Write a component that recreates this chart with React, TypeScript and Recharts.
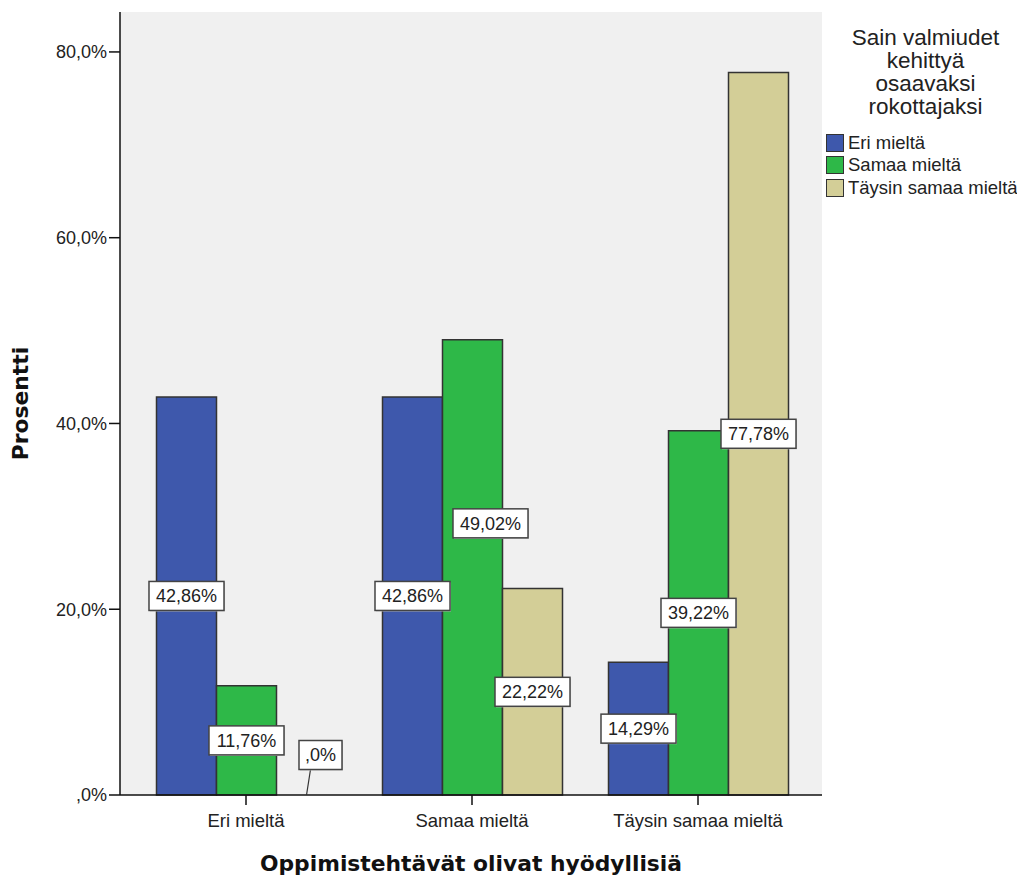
import React from 'react';
import {
  BarChart,
  Bar,
  XAxis,
  YAxis,
  CartesianGrid,
  Legend,
  LabelList,
} from 'recharts';

const categories = ['Eri mieltä', 'Samaa mieltä', 'Täysin samaa mieltä'];
const eriMielta = [42.86, 42.86, 14.29];
const samaaMielta = [11.76, 49.02, 39.22];
const taysinSamaa = [0, 22.22, 77.78];
const seriesNames = ['Eri mieltä', 'Samaa mieltä', 'Täysin samaa mieltä'];
const yTicks = [0, 20, 40, 60, 80];
const legendTitle = ['Sain valmiudet', 'kehittyä', 'osaavaksi', 'rokottajaksi'];

const data = categories.map((cat, i) => ({
  cat,
  eri: eriMielta[i],
  samaa: samaaMielta[i],
  taysin: taysinSamaa[i],
}));

const keys = ['eri', 'samaa', 'taysin'];
const colors = ['#3E58AC', '#2EB848', '#D3CE97'];

const FONT = '"Liberation Sans", Arial, sans-serif';
const BOLD_FONT = '"DejaVu Sans", Verdana, sans-serif';
const Y_MAX = 84.3;
const X_PAD = { left: 13, right: 11 };

const fmtPct = (v: number) => (v === 0 ? ',0%' : `${v.toFixed(2).replace('.', ',')}%`);
const fmtTick = (v: number) => (v === 0 ? ',0%' : `${v},0%`);

// label nudges where the original moved a box off the bar centre
const labelNudge = (key: string, index: number, value: number) => {
  if (value === 0) return { dx: 14, dy: -40 };
  if (key === 'samaa' && index === 1) return { dx: 18, dy: -44 };
  return { dx: 0, dy: 0 };
};

const makeLabel = (key: string) => (props: any) => {
  const { x, y, width, height, value, index } = props;
  const v = Number(value);
  const base = Number(y) + Number(height);
  const top = v === 0 ? base : Number(y);
  const cx = Number(x) + Number(width) / 2;
  const cy = v === 0 ? base : Number(y) + Number(height) / 2;
  const text = fmtPct(v);
  const w = text.length * 10.67 + 11;
  const h = 29;
  const n = labelNudge(key, index, v);
  const bx = cx + n.dx;
  const by = cy + n.dy;
  return (
    <g>
      {v === 0 && (
        <line x1={cx} y1={top} x2={bx - 10} y2={by + h / 2} stroke="#333" strokeWidth={1.2} />
      )}
      <rect x={bx - w / 2 + 1} y={by - h / 2 + 1} width={w} height={h} fill="#c8c8c8" />
      <rect x={bx - w / 2} y={by - h / 2} width={w} height={h} fill="#fff" stroke="#444" strokeWidth={1.5} />
      <text x={bx} y={by} dy="0.36em" textAnchor="middle" fontSize={18} fontFamily={FONT} fill="#222">
        {text}
      </text>
    </g>
  );
};

const LegendBox = (props: any) => {
  const payload = (props.payload || []).filter((p: any) => p.type !== 'none');
  return (
    <div style={{ fontFamily: FONT, color: '#222' }}>
      <div style={{ width: 199, textAlign: 'center', fontSize: 22.5, lineHeight: '23px' }}>
        {legendTitle.map((t) => (
          <div key={t}>{t}</div>
        ))}
      </div>
      <div style={{ marginTop: 13.5 }}>
        {payload.map((p: any) => (
          <div key={p.value} style={{ display: 'flex', alignItems: 'center', height: 22.5, fontSize: 18.5, whiteSpace: 'nowrap' }}>
            <span
              style={{
                display: 'inline-block',
                width: 16,
                height: 16,
                background: p.color,
                border: '1.5px solid #333',
                marginRight: 4,
              }}
            />
            {p.value}
          </div>
        ))}
      </div>
    </div>
  );
};

const App: React.FC = () => {
  return (
    <div style={{ width: 1009, height: 869 }}>
      <BarChart
        width={1009}
        height={869}
        data={data}
        margin={{ top: 4, right: 195, left: 0, bottom: 0 }}
        barCategoryGap="10.4%"
        barGap={0}
      >
        <CartesianGrid fill="#F0F0F0" horizontal={false} vertical={false} />
        <XAxis
          dataKey="cat"
          height={82}
          padding={X_PAD}
          axisLine={{ stroke: '#111', strokeWidth: 1.5 }}
          tickLine={{ stroke: '#111', strokeWidth: 1.5 }}
          tickSize={10}
          tickMargin={9}
          tick={{ fontSize: 18.5, fontFamily: FONT, fill: '#222' }}
          label={{
            value: 'Oppimistehtävät olivat hyödyllisiä',
            position: 'insideBottom',
            offset: 6,
            style: { fontSize: 21.8, fontWeight: 'bold', fontFamily: BOLD_FONT, fill: '#111' },
          }}
        />
        <XAxis
          xAxisId="top"
          dataKey="cat"
          orientation="top"
          height={0}
          padding={X_PAD}
          tick={false}
          tickLine={false}
          axisLine={{ stroke: '#666', strokeWidth: 1.5 }}
        />
        <YAxis
          width={112}
          domain={[0, Y_MAX]}
          ticks={yTicks}
          tickFormatter={fmtTick}
          axisLine={{ stroke: '#111', strokeWidth: 1.5 }}
          tickLine={{ stroke: '#111', strokeWidth: 1.5 }}
          tickSize={11}
          tickMargin={2}
          tick={{ fontSize: 18, fontFamily: FONT, fill: '#222' }}
          label={{
            value: 'Prosentti',
            angle: -90,
            position: 'insideLeft',
            offset: 12,
            style: { fontSize: 21.8, fontWeight: 'bold', fontFamily: BOLD_FONT, fill: '#111', textAnchor: 'middle' },
          }}
        />
        <YAxis
          yAxisId="right"
          orientation="right"
          width={0}
          domain={[0, Y_MAX]}
          tick={false}
          tickLine={false}
          axisLine={{ stroke: '#666', strokeWidth: 1.5 }}
        />
        <Legend
          layout="vertical"
          align="center"
          verticalAlign="middle"
          content={<LegendBox />}
          wrapperStyle={{ left: 818, top: 18, width: 199, height: 200 }}
        />
        {keys.map((k, i) => (
          <Bar
            key={k}
            dataKey={k}
            name={seriesNames[i]}
            fill={colors[i]}
            stroke="#333"
            strokeWidth={1.5}
            isAnimationActive={false}
          />
        ))}
        {/* transparent copies on the top axis so the value boxes sit above every bar */}
        {keys.map((k) => (
          <Bar
            key={`lbl-${k}`}
            xAxisId="top"
            dataKey={k}
            fill="transparent"
            stroke="none"
            minPointSize={1}
            legendType="none"
            isAnimationActive={false}
          >
            <LabelList dataKey={k} content={makeLabel(k)} />
          </Bar>
        ))}
      </BarChart>
    </div>
  );
};

export default App;
